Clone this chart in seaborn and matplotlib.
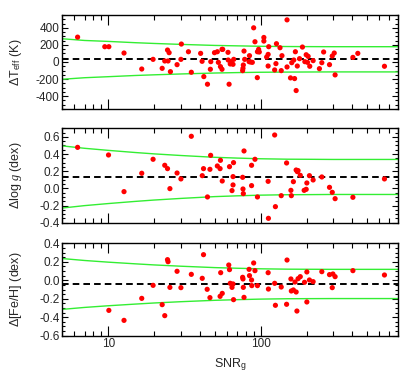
import numpy as np
import pandas as pd
import matplotlib
matplotlib.use("Agg")
import matplotlib.pyplot as plt
import seaborn as sns
from matplotlib.ticker import MultipleLocator, LogLocator, NullFormatter, FixedLocator

# ---------------- data ----------------
teff_snr = [6.3, 9.5, 10.1, 12.7, 16.6, 19.7, 22.6, 23.5, 24.5, 24.7, 25.1, 25.6, 28.3, 30.2, 30.0,
            33.6, 35.1, 40.4, 41.3, 42.4, 44.8, 46.8, 47.1, 49.8, 52.0, 52.8, 54.5, 55.8, 55.8, 56.4,
            61.1, 61.3, 62.1, 63.2, 64.0, 65.9, 66.6, 76.2, 76.6, 77.0, 77.8, 78.6, 84.0, 84.5, 85.9,
            88.2, 90.0, 91.8, 95.1, 95.3, 97.0, 98.0, 105, 105, 109.5, 112, 112, 113, 123.6, 126,
            127, 134, 136.5, 138, 149, 149, 157, 160, 165, 167, 169, 171, 174, 180, 188, 195, 199,
            203, 205, 210, 221, 243, 252, 259, 283, 295, 304, 308, 403, 434, 649]
teff_diff = [291, 179, 179, 105, -82, 31, -74, 12, 140, 12, 109, -113, -31, 210, 31,
             120, -120, 101, 8, -171, -260, -85, 4, 109, 120, -4, -54, -85, 148, 148,
             113, 23, -260, -23, 4, -27, 31, -101, -74, -35, 128, 31, 4, 74, 0,
             -4, 400, 237, -183, 120, 148, 117, 287, 245, 58, 89, -47, 179, -93, -19,
             214, 167, -101, 74, 493, -58, -186, -8, 23, -194, 120, -334, -47, 39, 175, 4, 85,
             -4, 66, -50, 16, -78, -8, 117, -31, 70, 105, -151, 54, 101, -50]

logg_snr = [6.3, 10.05, 12.7, 16.6, 19.7, 23.5, 24.5, 25.4, 28.3, 30.0, 35.1, 41.4, 42.2, 44.8,
            46.5, 47.0, 52.0, 54.5, 54.2, 56.0, 62.5, 64.9, 65.9, 66.4, 65.9, 76.2, 76.6, 77.0,
            77.8, 87.2, 87.2, 91.8, 95.3, 112, 112.5, 123.6, 125, 136.5, 148, 158, 159, 164,
            171, 174, 176, 182, 193, 199, 201, 209, 221, 252, 283, 295, 308, 403, 649]
logg_diff = [0.478, 0.389, -0.038, 0.176, 0.339, 0.269, 0.230, -0.003, 0.179, 0.110, 0.607, 0.148,
             0.230, -0.100, 0.222, 0.385, 0.261, 0.327, 0.230, 0.086, 0.253, -0.026, 0.137, 0.300,
             0.040, 0.129, -0.007, -0.061, 0.436, 0.269, 0.032, 0.339, -0.100, 0.082, -0.349,
             0.622, -0.213, -0.085, 0.296, -0.023, -0.085, 0.078, 0.214, 0.195, 0.207, 0.152,
             -0.023, -0.011, 0.063, 0.148, 0.098, 0.133, 0.012, -0.046, -0.120, -0.104, 0.110]

feh_snr = [10.1, 12.7, 16.6, 19.7, 22.6, 23.5, 24.5, 24.7, 25.4, 28.3, 30.0, 35.1, 41.4, 42.2,
           44.6, 46.5, 54.2, 54.7, 56.0, 61.8, 62.5, 63.2, 64.9, 65.9, 66.4, 76.2, 76.6, 77.0,
           77.8, 84.0, 84.5, 87.2, 87.5, 90.0, 91.8, 95.3, 112, 112.5, 123.6, 125, 136.5, 149,
           148, 158, 159, 164, 168, 171, 173, 176, 182, 194, 201, 201, 209, 221, 252, 283, 295,
           298, 308, 403, 649]
feh_diff = [-0.326, -0.434, -0.196, -0.055, -0.264, -0.383, 0.223, 0.201, -0.077, 0.097, -0.080,
            0.064, 0.021, 0.277, -0.098, -0.188, -0.174, 0.082, -0.142, 0.165, 0.115, -0.033,
            -0.077, -0.040, -0.210, 0.032, 0.014, -0.077, -0.185, 0.118, 0.050, 0.003, -0.058,
            0.187, 0.104, -0.058, 0.082, -0.095, -0.033, -0.271, -0.073, 0.219, -0.260, 0.014,
            -0.116, -0.105, -0.019, -0.127, -0.333, 0.017, 0.039, -0.022, 0.090, -0.235, 0.003,
            -0.015, 0.093, 0.061, -0.080, 0.068, 0.039, 0.104, 0.057]

mean_offsets = [30, 0.133, -0.04]

curve_snr = [5, 7, 10, 15, 20, 30, 50, 70, 100, 150, 200, 300, 500, 800]
teff_upper = [272, 252, 241, 226, 217, 206, 194, 189, 184, 181, 180, 179, 179, 179]
teff_lower = [-202, -184, -172, -158, -150, -140, -129, -124, -120, -118, -117, -116, -116, -116]
logg_upper = [0.495, 0.467, 0.443, 0.418, 0.402, 0.383, 0.362, 0.353, 0.345, 0.340, 0.339, 0.337, 0.337, 0.337]
logg_lower = [-0.229, -0.201, -0.177, -0.152, -0.136, -0.117, -0.096, -0.087, -0.079, -0.074, -0.073, -0.071, -0.071, -0.071]
feh_upper = [0.235, 0.214, 0.196, 0.178, 0.166, 0.152, 0.137, 0.130, 0.124, 0.120, 0.119, 0.118, 0.118, 0.118]
feh_lower = [-0.315, -0.294, -0.276, -0.258, -0.246, -0.232, -0.217, -0.210, -0.204, -0.200, -0.199, -0.198, -0.198, -0.198]

ylabels = [r'$\Delta$T$_{\rm eff}$ (K)', r'$\Delta\log\,\mathit{g}$ (dex)', r'$\Delta$[Fe/H] (dex)']
xlabel = r'SNR$_{\rm g}$'
x_ticks = [10, 100]
x_ticklabels = ['10', '100']

# ---------------- style ----------------
sns.set_style("ticks")
plt.rcParams['font.family'] = ['Liberation Sans', 'DejaVu Sans']
plt.rcParams['mathtext.fontset'] = 'custom'
plt.rcParams['mathtext.rm'] = 'Liberation Sans'
plt.rcParams['mathtext.it'] = 'Liberation Serif:italic'
plt.rcParams['font.size'] = 8.5

fig = plt.figure(figsize=(4.15, 3.78), dpi=100)
W, H = 415, 378
left, right = 62.3, 398.3
panels_px = [(15, 109), (128.3, 222.7), (243.3, 335.7)]
ylims = [(-550, 550), (-0.4, 0.7), (-0.6, 0.4)]
yticks = [[-400, -200, 0, 200, 400],
          [-0.4, -0.2, 0.0, 0.2, 0.4, 0.6],
          [-0.6, -0.4, -0.2, 0.0, 0.2, 0.4]]
ymajor = [200, 0.2, 0.2]

datasets = [
    (teff_snr, teff_diff, teff_upper, teff_lower),
    (logg_snr, logg_diff, logg_upper, logg_lower),
    (feh_snr, feh_diff, feh_upper, feh_lower),
]

for i, ((top, bot), (xs, ys, up, lo)) in enumerate(zip(panels_px, datasets)):
    ax = fig.add_axes([left / W, 1 - bot / H, (right - left) / W, (bot - top) / H])
    pts = pd.DataFrame({'snr': xs, 'diff': ys})
    crv = pd.DataFrame({'snr': curve_snr, 'up': up, 'lo': lo})
    sns.lineplot(data=crv, x='snr', y='up', ax=ax, color='#33ee33', lw=1.0, sort=True)
    sns.lineplot(data=crv, x='snr', y='lo', ax=ax, color='#33ee33', lw=1.0, sort=True)
    ax.axhline(mean_offsets[i], color='black', lw=1.4, ls=(0, (3.4, 2.1)), zorder=3)
    sns.scatterplot(data=pts, x='snr', y='diff', ax=ax, color='red', s=14,
                    edgecolor='none', linewidth=0, zorder=4)
    ax.set_xscale('log')
    ax.set_xlim(5, 800)
    ax.set_ylim(*ylims[i])
    ax.yaxis.set_major_locator(FixedLocator(yticks[i]))
    ax.yaxis.set_minor_locator(MultipleLocator(ymajor[i] / 4))
    ax.xaxis.set_major_locator(FixedLocator(x_ticks))
    ax.xaxis.set_minor_locator(LogLocator(base=10, subs=np.arange(2, 10)))
    ax.xaxis.set_minor_formatter(NullFormatter())
    if i == 2:
        ax.set_xticklabels(x_ticklabels)
        ax.set_xlabel(xlabel, fontsize=9, labelpad=4)
    else:
        ax.set_xticklabels([])
        ax.set_xlabel('')
    if i == 0:
        ax.set_yticklabels([f'{v:d}' for v in yticks[i]])
    else:
        ax.set_yticklabels([f'{v:.1f}' for v in yticks[i]])
    ax.set_ylabel(ylabels[i], fontsize=9)
    ax.yaxis.set_label_coords(-0.115, 0.5)
    ax.tick_params(axis='both', which='both', direction='in', top=True, right=True,
                   color='black', width=0.8, labelsize=8.5, pad=2)
    ax.tick_params(axis='x', which='major', length=7)
    ax.tick_params(axis='x', which='minor', length=3.6)
    ax.tick_params(axis='y', which='major', length=4)
    ax.tick_params(axis='y', which='minor', length=2)
    for sp in ax.spines.values():
        sp.set_color('black')
        sp.set_linewidth(1.0)

fig.savefig('out.png', dpi=100)
